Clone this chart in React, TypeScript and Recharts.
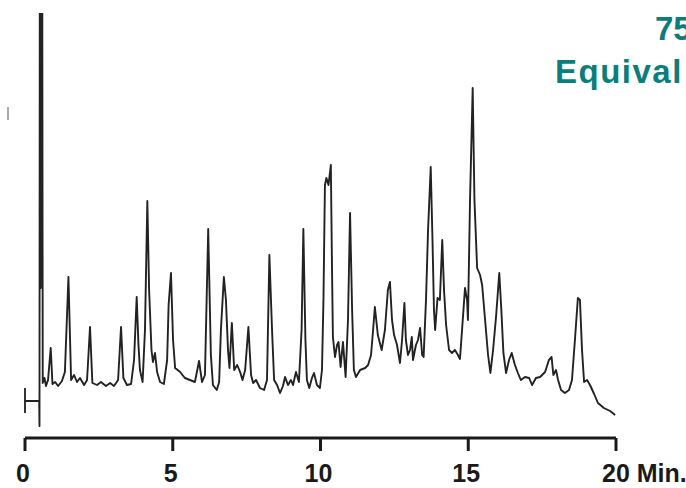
import React from 'react';
import { LineChart, Line, XAxis, YAxis, ReferenceLine } from 'recharts';

// Retention time (min) and detector signal
const TIME = [
  0, 0.48, 0.49, 0.5, 0.53, 0.555, 0.585, 0.6, 0.66, 0.71, 0.78, 0.87, 0.93, 1.02, 1.12, 1.25, 1.35, 1.47, 1.56, 1.66, 1.76, 1.86,
  2.0, 2.1, 2.2, 2.28, 2.44, 2.57, 2.74, 2.88, 3.01, 3.15, 3.25, 3.33, 3.45, 3.59, 3.69, 3.78, 3.84, 3.89, 3.98, 4.06,
  4.14, 4.2, 4.28, 4.33, 4.4, 4.47, 4.57, 4.7, 4.81, 4.86, 4.94, 5.01, 5.08, 5.25, 5.41, 5.58, 5.75, 5.89, 5.99, 6.09,
  6.2, 6.29, 6.36, 6.49, 6.57, 6.63, 6.73, 6.8, 6.87, 6.92, 7.0, 7.08, 7.18, 7.28, 7.36, 7.45, 7.56, 7.65, 7.72, 7.82,
  7.95, 8.09, 8.19, 8.27, 8.36, 8.43, 8.53, 8.63, 8.73, 8.8, 8.9, 9.0, 9.07, 9.17, 9.27, 9.36, 9.42, 9.49, 9.54, 9.62,
  9.71, 9.78, 9.88, 9.98, 10.05, 10.1, 10.15, 10.2, 10.27, 10.35, 10.39, 10.42, 10.49, 10.56, 10.61, 10.68, 10.76, 10.85, 10.93, 11.0,
  11.07, 11.13, 11.2, 11.34, 11.51, 11.61, 11.71, 11.78, 11.84, 11.94, 12.07, 12.18, 12.28, 12.35, 12.42, 12.49, 12.59, 12.69, 12.76, 12.84,
  12.89, 12.96, 13.03, 13.09, 13.13, 13.23, 13.3, 13.37, 13.44, 13.49, 13.57, 13.64, 13.73, 13.79, 13.84, 13.88, 13.96, 14.04, 14.12, 14.18,
  14.25, 14.35, 14.45, 14.55, 14.65, 14.72, 14.79, 14.89, 14.96, 14.99, 15.06, 15.15, 15.21, 15.3, 15.4, 15.47, 15.57, 15.67, 15.75, 15.84,
  15.94, 16.05, 16.12, 16.19, 16.28, 16.38, 16.47, 16.58, 16.68, 16.78, 16.92, 17.06, 17.16, 17.29, 17.43, 17.6, 17.73, 17.82, 17.88, 17.97,
  18.04, 18.14, 18.27, 18.41, 18.51, 18.61, 18.71, 18.78, 18.85, 18.92, 19.02, 19.12, 19.26, 19.39, 19.59, 19.8, 19.97,
];

const SIGNAL = [
  37, 37, 12, 440, 150, 440, 440, 55, 60, 52, 58, 90, 54, 56, 52, 57, 66, 161, 58, 63, 56, 60,
  53, 58, 111, 55, 53, 56, 52, 55, 52, 58, 111, 60, 53, 54, 78, 141, 93, 68, 56, 108,
  237, 148, 88, 76, 85, 66, 56, 54, 78, 133, 165, 98, 70, 66, 60, 58, 56, 77, 56, 63,
  209, 83, 53, 48, 56, 108, 161, 138, 88, 70, 115, 68, 73, 66, 58, 68, 111, 63, 55, 58,
  50, 48, 58, 183, 108, 58, 53, 45, 52, 61, 53, 58, 53, 66, 56, 108, 209, 98, 58, 50,
  60, 65, 53, 50, 68, 138, 253, 260, 253, 273, 168, 101, 81, 93, 96, 71, 96, 61, 118, 225,
  128, 68, 61, 68, 70, 73, 83, 108, 131, 103, 88, 108, 148, 156, 118, 103, 93, 75, 98, 135,
  98, 83, 88, 101, 78, 93, 98, 110, 83, 81, 138, 208, 271, 198, 128, 108, 140, 138, 198, 148,
  113, 88, 85, 88, 83, 79, 108, 150, 138, 118, 238, 350, 238, 170, 163, 153, 118, 83, 65, 88,
  121, 165, 128, 85, 65, 78, 85, 73, 65, 58, 61, 60, 53, 60, 61, 66, 78, 81, 63, 68,
  58, 48, 45, 48, 58, 98, 140, 138, 88, 56, 58, 53, 44, 35, 30, 27, 23,
];

const X_TICKS = [0, 5, 10, 15, 20];
const X_TICK_LABELS = ['0', '5', '10', '15', '20 Min.'];
const TITLE_LINES = ['75', 'Equival'];

const data = TIME.map((t, i) => ({ t, v: SIGNAL[i] }));

const TickLabel = (props: any) => {
  const { x, y, payload } = props;
  const idx = X_TICKS.indexOf(payload.value);
  const label = X_TICK_LABELS[idx] ?? String(payload.value);
  const isLast = idx === X_TICKS.length - 1;
  return (
    <text
      x={isLast ? x - 14 : x - 2}
      y={y + 29}
      textAnchor={isLast ? 'start' : 'middle'}
      fontFamily="'Liberation Sans', Arial, sans-serif"
      fontWeight="bold"
      fontSize={25}
      fill="#1a1a1a"
    >
      {label}
    </text>
  );
};

export default function App() {
  return (
    <div style={{ position: 'absolute', left: 0, top: 0, width: 686, height: 488, overflow: 'hidden', background: '#fff' }}>
      <LineChart width={686} height={488} data={data} margin={{ top: 13, right: 70, left: 25, bottom: 0 }}>
        <XAxis
          dataKey="t"
          type="number"
          domain={[0, 20]}
          ticks={X_TICKS}
          axisLine={{ stroke: '#1a1a1a', strokeWidth: 3 }}
          tickLine={{ stroke: '#1a1a1a', strokeWidth: 3 }}
          tickSize={13}
          height={50}
          tick={<TickLabel />}
          interval={0}
        />
        <YAxis hide domain={[0, 425]} allowDataOverflow />
        <ReferenceLine
          segment={[{ x: 0, y: 50 }, { x: 0, y: 25 }]}
          stroke="#333"
          strokeWidth={2}
          ifOverflow="visible"
        />
        <ReferenceLine
          segment={[{ x: -0.575, y: 331 }, { x: -0.575, y: 318 }]}
          stroke="#aaa"
          strokeWidth={2}
          ifOverflow="visible"
        />
        <Line
          dataKey="v"
          type="linear"
          stroke="#222"
          strokeWidth={1.9}
          dot={false}
          isAnimationActive={false}
          strokeLinejoin="round"
        />
      </LineChart>
      <svg width={686} height={488} style={{ position: 'absolute', left: 0, top: 0, pointerEvents: 'none' }}>
        <text x={655} y={40} fontFamily="Arial, 'Liberation Sans', sans-serif" fontWeight="bold" fontSize={33} fill="#0b7d7b">
          {TITLE_LINES[0]}
        </text>
        <text x={555} y={83} fontFamily="Arial, 'Liberation Sans', sans-serif" fontWeight="bold" fontSize={33} letterSpacing={1.5} fill="#0b7d7b">
          {TITLE_LINES[1]}
        </text>
      </svg>
    </div>
  );
}
